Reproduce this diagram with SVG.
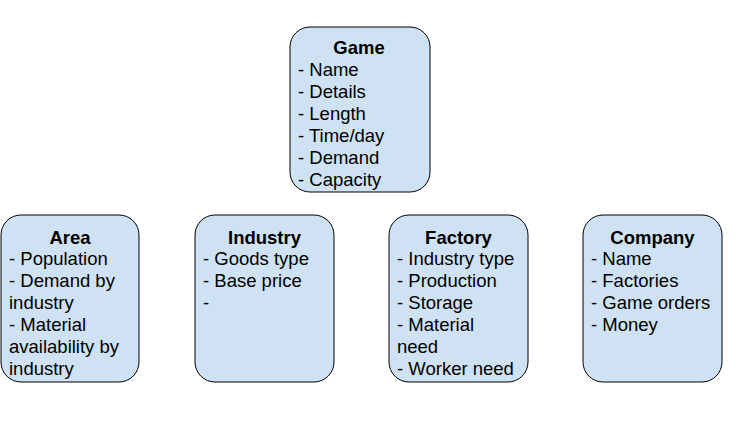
<svg xmlns="http://www.w3.org/2000/svg" width="747" height="439" viewBox="0 0 747 439">
<style>
.box{fill:#cfe2f3;stroke:#000;stroke-width:1}
text{font-family:"Liberation Sans",Arial,sans-serif;font-size:18.5px;fill:#000}
.t{font-weight:bold;text-anchor:middle}
</style>
<rect width="747" height="439" fill="#fff"/>
<g id="connectors"></g>
<g id="game">
<rect class="box" x="290" y="27" width="140" height="165" rx="20"/>
<text class="t" x="359" y="54">Game</text>
<text x="298" y="76">- Name</text>
<text x="298" y="98">- Details</text>
<text x="298" y="120">- Length</text>
<text x="298" y="142">- Time/day</text>
<text x="298" y="164">- Demand</text>
<text x="298" y="186">- Capacity</text>
</g>
<g id="area">
<rect class="box" x="1" y="215" width="138" height="167" rx="20"/>
<text class="t" x="70" y="244">Area</text>
<text x="9" y="265">- Population</text>
<text x="9" y="287">- Demand by</text>
<text x="9" y="309">industry</text>
<text x="9" y="331">- Material</text>
<text x="9" y="353">availability by</text>
<text x="9" y="375">industry</text>
</g>
<g id="industry">
<rect class="box" x="195" y="215" width="139" height="167" rx="20"/>
<text class="t" x="264.5" y="244">Industry</text>
<text x="203" y="265">- Goods type</text>
<text x="203" y="287">- Base price</text>
<text x="203" y="309">-</text>
</g>
<g id="factory">
<rect class="box" x="389" y="215" width="139" height="167" rx="20"/>
<text class="t" x="458.5" y="244">Factory</text>
<text x="397" y="265">- Industry type</text>
<text x="397" y="287">- Production</text>
<text x="397" y="309">- Storage</text>
<text x="397" y="331">- Material</text>
<text x="397" y="353">need</text>
<text x="397" y="375">- Worker need</text>
</g>
<g id="company">
<rect class="box" x="583" y="215" width="139" height="167" rx="20"/>
<text class="t" x="652.5" y="244">Company</text>
<text x="591" y="265">- Name</text>
<text x="591" y="287">- Factories</text>
<text x="591" y="309">- Game orders</text>
<text x="591" y="331">- Money</text>
</g>
</svg>
